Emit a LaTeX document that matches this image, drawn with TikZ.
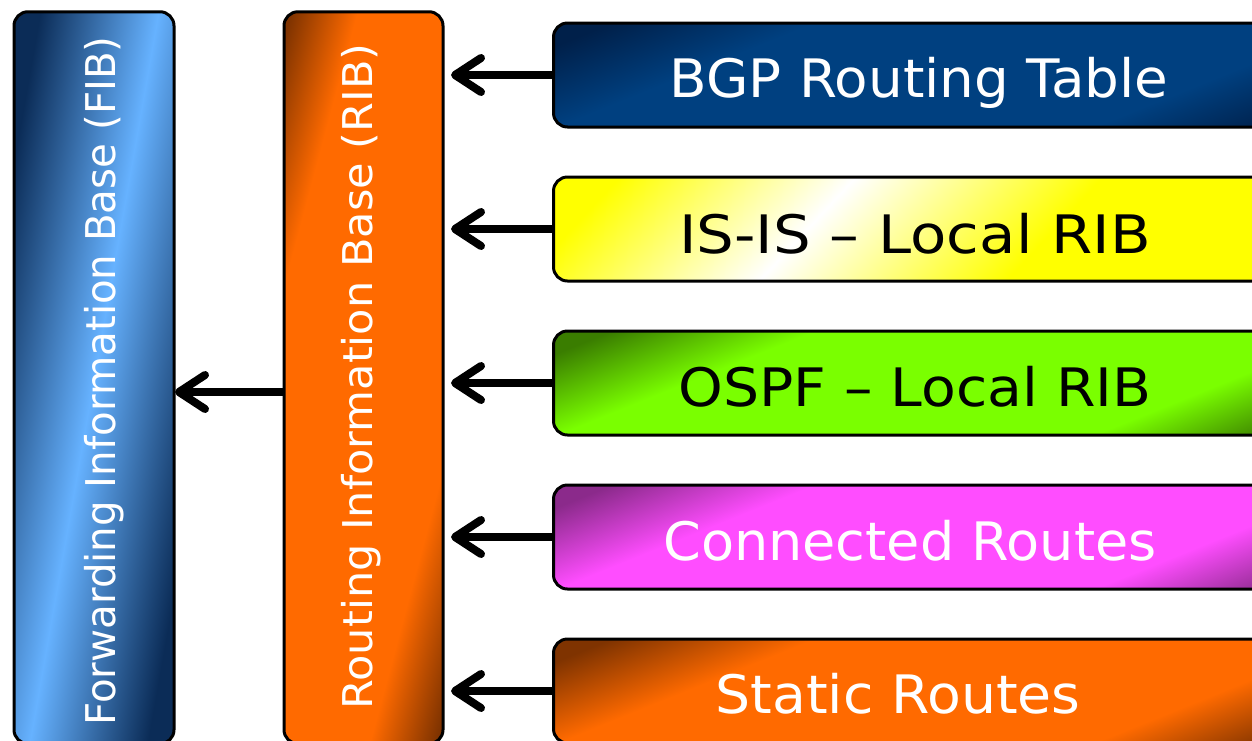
\documentclass[tikz,border=0pt]{standalone}
\usepackage{fontspec}
\setmainfont{DejaVu Sans}
\usetikzlibrary{arrows.meta,calc}
\definecolor{fibdk}{HTML}{0B2C57}
\definecolor{fiblt}{HTML}{66B2FF}
\definecolor{ribdk}{HTML}{7F3300}
\definecolor{ribbr}{HTML}{FF6A00}
\definecolor{bgpdk}{HTML}{00204A}
\definecolor{bgpbr}{HTML}{004080}
\definecolor{isyel}{HTML}{FFFF00}
\definecolor{ospfdk}{HTML}{3A7D00}
\definecolor{ospfbr}{HTML}{7AFF00}
\definecolor{condk}{HTML}{8B2A8B}
\definecolor{conbr}{HTML}{FF4DFF}
\pgfdeclareverticalshading{fibshade}{100bp}{color(0bp)=(fibdk); color(21bp)=(fibdk); color(50bp)=(fiblt); color(79bp)=(fibdk); color(100bp)=(fibdk)}
\pgfdeclareverticalshading{ribshade}{100bp}{color(0bp)=(ribdk); color(9bp)=(ribdk); color(25bp)=(ribbr); color(75bp)=(ribbr); color(91bp)=(ribdk); color(100bp)=(ribdk)}
\pgfdeclareverticalshading{statshade}{100bp}{color(0bp)=(ribdk); color(4bp)=(ribdk); color(21bp)=(ribbr); color(71bp)=(ribbr); color(90bp)=(ribdk); color(100bp)=(ribdk)}
\pgfdeclareverticalshading{bgpshade}{100bp}{color(0bp)=(bgpdk); color(4bp)=(bgpdk); color(21bp)=(bgpbr); color(71bp)=(bgpbr); color(90bp)=(bgpdk); color(100bp)=(bgpdk)}
\pgfdeclareverticalshading{ospfshade}{100bp}{color(0bp)=(ospfdk); color(4bp)=(ospfdk); color(21bp)=(ospfbr); color(71bp)=(ospfbr); color(90bp)=(ospfdk); color(100bp)=(ospfdk)}
\pgfdeclareverticalshading{conshade}{100bp}{color(0bp)=(condk); color(4bp)=(condk); color(21bp)=(conbr); color(71bp)=(conbr); color(90bp)=(condk); color(100bp)=(condk)}
\pgfdeclareverticalshading{isshade}{100bp}{color(0bp)=(isyel); color(37bp)=(isyel); color(59.5bp)=(white); color(81bp)=(isyel); color(100bp)=(isyel)}
% fill a box node with a shading rotated by #3 (degrees), stretched by #4 along its axis
\newcommand\gradfill[4]{%
  \begin{scope}
    \clip[rounded corners=14pt] (#1.south west) rectangle (#1.north east);
    \pgftransformshift{\pgfpointanchor{#1}{center}}%
    \pgftransformrotate{#3}%
    \pgftransformyscale{#4}%
    \pgftransformxscale{30}%
    \pgflowlevelsynccm
    \pgfuseshading{#2}%
  \end{scope}}
\tikzset{
  box/.style={inner sep=0pt, outer sep=0pt},
  vbox/.style={box, minimum width=160pt, minimum height=732pt},
  hbox/.style={box, minimum width=716pt, minimum height=104pt},
  border/.style={draw=black, line width=3pt, rounded corners=14pt},
  vtxt/.style={white, anchor=base, rotate=90, font=\fontsize{41}{48}\selectfont},
  htxt/.style={anchor=base, font=\fontsize{53}{60}\selectfont},
  arr/.style={line width=8pt, -{Straight Barb[length=26pt,width=34pt,round]}},
}
\begin{document}
\begin{tikzpicture}[x=1pt,y=-1pt]
\useasboundingbox (0,0) rectangle (1252,740);
\clip (0,0) rectangle (1252,740);
% box nodes
\node[vbox] (fib) at (94,377.75) {};
\node[vbox, minimum width=159pt] (rib) at (363.5,377.75) {};
\node[hbox] (bgp) at (911.5,75) {};
\node[hbox] (isis) at (911.5,229) {};
\node[hbox] (ospf) at (911.5,383) {};
\node[hbox] (con) at (911.5,537) {};
\node[hbox] (stat) at (911.5,691) {};
% fills
\gradfill{fib}{fibshade}{80}{4}
\gradfill{rib}{ribshade}{75}{4}
\gradfill{bgp}{bgpshade}{22}{4}
\gradfill{isis}{isshade}{47}{8}
\gradfill{ospf}{ospfshade}{22}{4}
\gradfill{con}{conshade}{22}{4}
\gradfill{stat}{statshade}{22}{4}
% arrows
\foreach \n in {bgp,isis,ospf,con,stat}{
  \draw[arr] (\n.west) -- ($(\n.west -| rib.east)+(8,0)$);
}
\draw[arr] (rib.west |- 0,392) -- ($(fib.east |- 0,392)+(1,0)$);
% borders
\foreach \n in {fib,rib,bgp,isis,ospf,con,stat}{
  \draw[border] (\n.south west) rectangle (\n.north east);
}
% texts
\node[vtxt, xscale=0.984] (fibt) at (115,381) {Forwarding Information Base (FIB)};
\node[vtxt, xscale=1.05] (ribt) at (372,376.5) {Routing Information Base (RIB)};
\node[htxt, white, xscale=1.033] (bgpt) at (919,97.5) {BGP Routing Table};
\node[htxt, black, xscale=1.12] (isist) at (915,253) {IS-IS – Local RIB};
\node[htxt, black, xscale=1.073] (ospft) at (915,406) {OSPF – Local RIB};
\node[htxt, white, xscale=1.02] (cont) at (910,560) {Connected Routes};
\node[htxt, white, xscale=1.043] (statt) at (898,713) {Static Routes};
\end{tikzpicture}
\end{document}
